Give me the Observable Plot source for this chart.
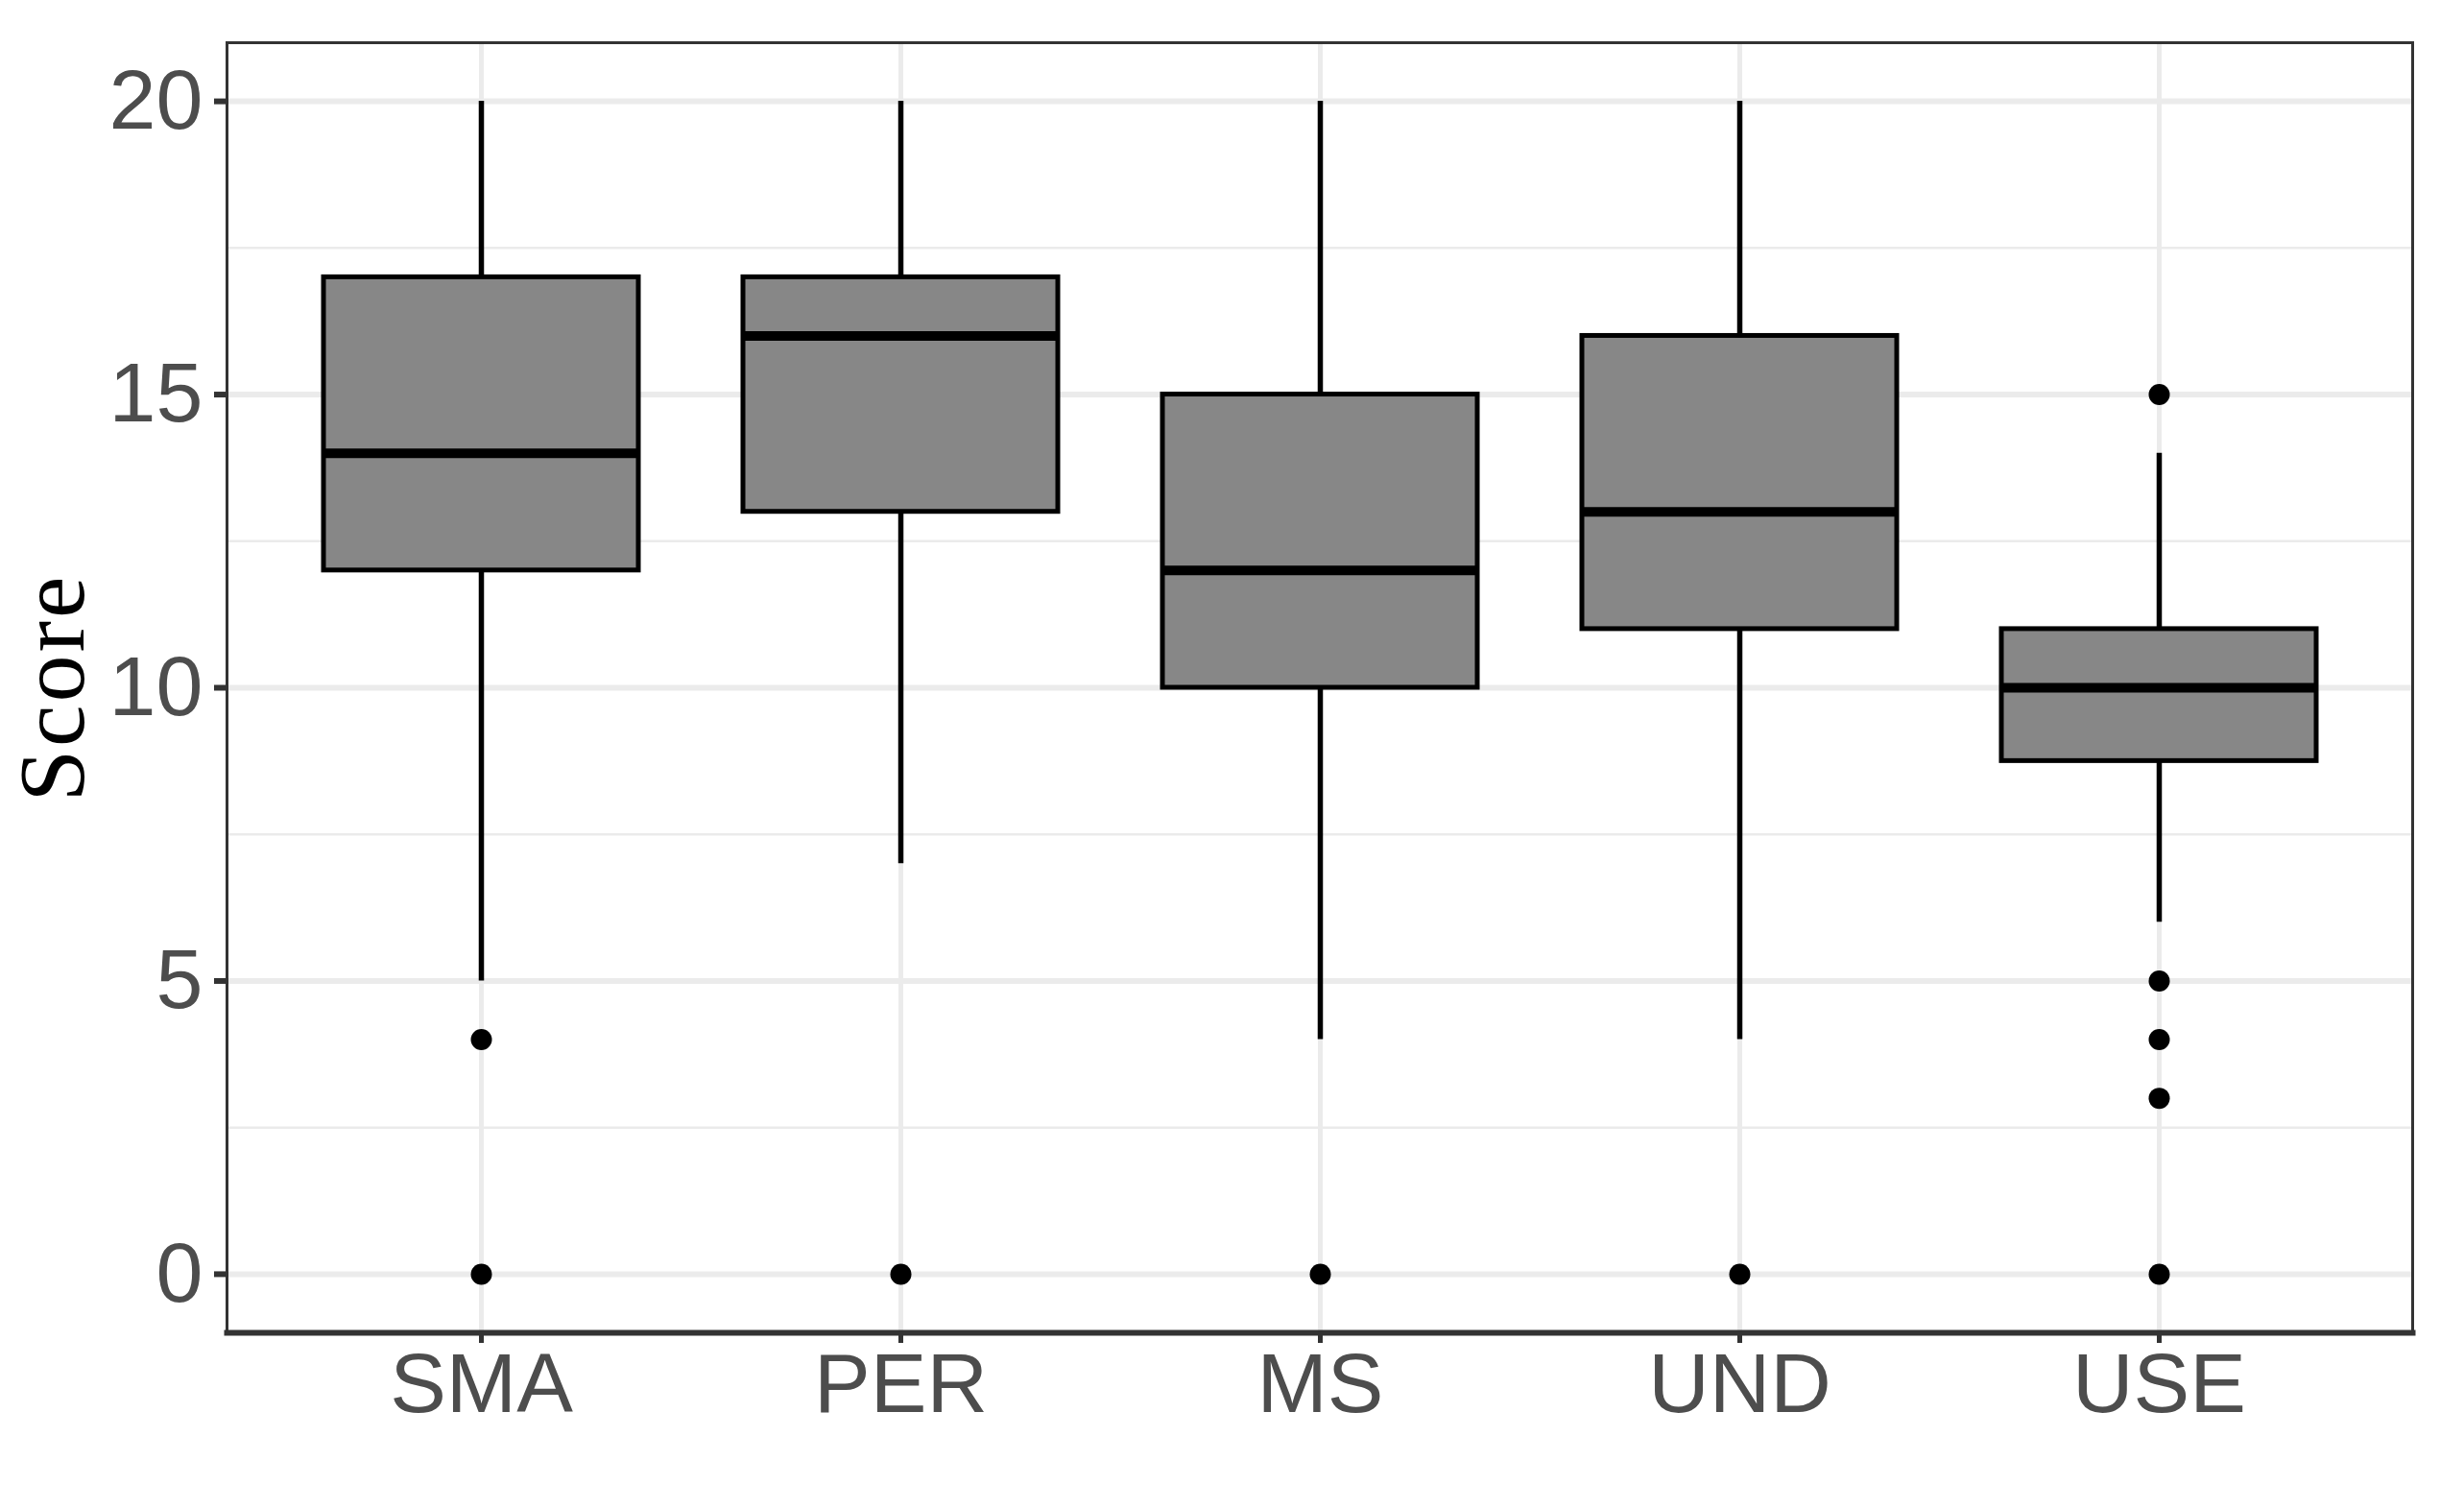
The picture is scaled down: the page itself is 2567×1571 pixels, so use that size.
<!DOCTYPE html>
<html>
<head>
<meta charset="utf-8">
<script src="https://cdn.jsdelivr.net/npm/d3@7"></script>
<script src="https://cdn.jsdelivr.net/npm/@observablehq/plot@0.6"></script>
<style>
  html, body { margin: 0; padding: 0; background: white; }
  #chart svg { display: block; }
</style>
</head>
<body>
<div id="chart"></div>
<script>
// Categories and box statistics
const categories = ["SMA", "PER", "MS", "UND", "USE"];
const whiskerLow  = [5, 7, 4, 4, 6];
const q1          = [12, 13, 10, 11, 8.75];
const median      = [14, 16, 12, 13, 10];
const q3          = [17, 17, 15, 16, 11];
const whiskerHigh = [20, 20, 20, 20, 14];
const outlierCat  = ["SMA", "SMA", "PER", "MS", "UND", "USE", "USE", "USE", "USE", "USE"];
const outlierVal  = [4, 0, 0, 0, 0, 15, 5, 4, 3, 0];
const yMajorTicks = [0, 5, 10, 15, 20];
const yMinorTicks = [2.5, 7.5, 12.5, 17.5];
const yLabel = "Score";

const stats = categories.map((c, i) => ({
  cat: c, lo: whiskerLow[i], q1: q1[i], med: median[i], q3: q3[i], hi: whiskerHigh[i]
}));
const outliers = outlierCat.map((c, i) => ({cat: c, v: outlierVal[i]}));

const chart = Plot.plot({
  width: 2567,
  height: 1571,
  marginLeft: 236,
  marginRight: 54,
  marginTop: 44,
  marginBottom: 183,
  style: {fontFamily: "'Liberation Sans', Arial, sans-serif", background: "white"},
  x: {type: "band", domain: categories, paddingInner: 0.25, paddingOuter: 0.225, align: 0.5},
  y: {domain: [-1, 21]},
  marks: [
    // grid
    Plot.ruleY(yMinorTicks, {stroke: "#EBEBEB", strokeWidth: 2.5}),
    Plot.ruleY(yMajorTicks, {stroke: "#EBEBEB", strokeWidth: 6}),
    Plot.ruleX(categories, {stroke: "#EBEBEB", strokeWidth: 5}),
    // whiskers
    Plot.ruleX(stats, {x: "cat", y1: "lo", y2: "q1", stroke: "black", strokeWidth: 5.5}),
    Plot.ruleX(stats, {x: "cat", y1: "q3", y2: "hi", stroke: "black", strokeWidth: 5.5}),
    // boxes
    Plot.barY(stats, {x: "cat", y1: "q1", y2: "q3", fill: "#878787", stroke: "black", strokeWidth: 5}),
    // medians
    Plot.tickY(stats, {x: "cat", y: "med", stroke: "black", strokeWidth: 10}),
    // outliers
    Plot.dot(outliers, {x: "cat", y: "v", r: 11, fill: "black", stroke: null}),
    // frame
    Plot.frame({stroke: "#333333", strokeWidth: 3}),
    Plot.frame({anchor: "bottom", stroke: "#333333", strokeWidth: 6}),
    // axes
    Plot.axisY({ticks: yMajorTicks, tickSize: 13, tickPadding: 12, fontSize: 88,
      stroke: "#333333", strokeWidth: 6, fill: "#4D4D4D", label: null}),
    Plot.axisX({tickSize: 11, tickPadding: 9, fontSize: 88,
      stroke: "#333333", strokeWidth: 5, fill: "#4D4D4D", label: null}),
    // y axis title
    Plot.text([yLabel], {frameAnchor: "left", dx: -181, rotate: -90, textAnchor: "middle",
      fontSize: 98, fontFamily: "'Liberation Serif', 'Times New Roman', serif", fill: "black"})
  ]
});
d3.select(chart).selectAll("text").filter(function() { return this.textContent === yLabel; })
  .attr("letter-spacing", 3);
document.getElementById("chart").appendChild(chart);
</script>
</body>
</html>
